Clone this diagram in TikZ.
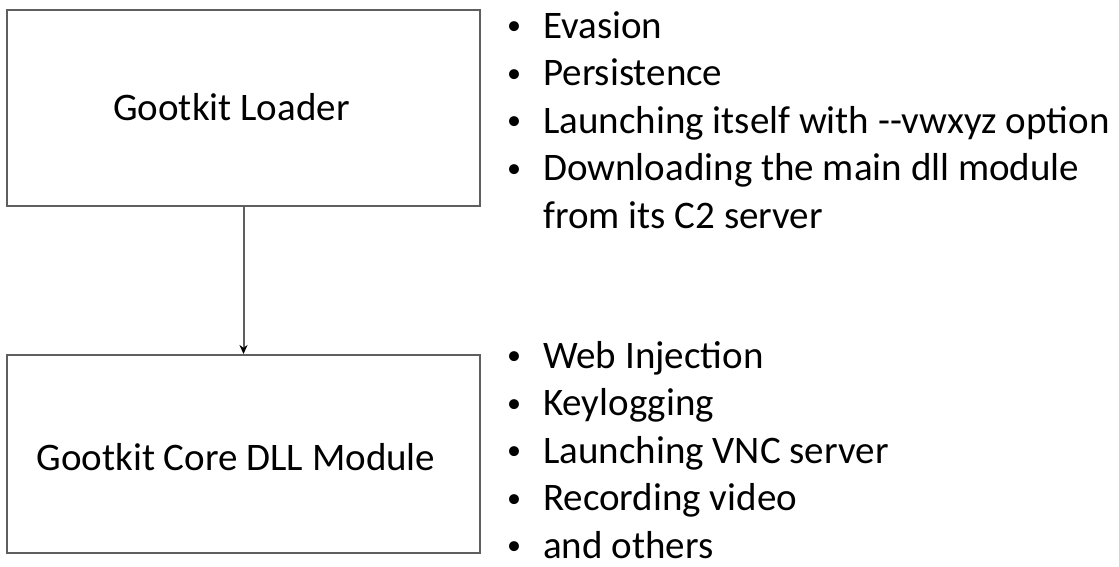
\documentclass[tikz,border=0pt]{standalone}
\usepackage{fontspec}
\usepackage{graphicx}
\setmainfont{Carlito}
\usetikzlibrary{positioning, arrows.meta}

\definecolor{edgegray}{RGB}{95,95,95}
\newcommand{\bitem}[1]{\makebox[36pt][l]{\raisebox{3.5pt}{\scalebox{0.72}{\textbullet}}}#1}

\begin{document}
\begin{tikzpicture}[
    x=1pt, y=-1pt,
    font=\fontsize{39}{47.5}\selectfont,
    stage/.style={draw=edgegray, line width=2pt, minimum width=473pt, minimum height=196pt, inner sep=0pt},
    items/.style={anchor=base west, align=left, inner sep=0pt},
    flow/.style={draw=edgegray, line width=2pt, -{Stealth[length=9pt, width=8pt, black]}}
]

% Page size
\useasboundingbox (0,0) rectangle (1119,567);

% Boxes
\node[stage] (loader) at (243.5,108) {};
\node[stage, minimum height=198pt] (core) at (243.5,454) {};
\node[anchor=base] (loadertxt) at (231.5,121) {Gootkit Loader};
\node[anchor=base] (coretxt) at (236,470) {Gootkit Core DLL Module};

% Connection
\draw[flow] (loader) -- (core);

% Feature lists (anchored at the last line)
\node[items] (loaderlist) at (507,228) {\bitem{Evasion}\\
    \bitem{Persistence}\\
    \bitem{Launching itself with -\kern0pt-vwxyz option}\\
    \bitem{Downloading the main dll module}\\
    \hspace*{36pt}from its C2 server};
\node[items] (corelist) at (507,558) {\bitem{Web Injection}\\
    \bitem{Keylogging}\\
    \bitem{Launching VNC server}\\
    \bitem{Recording video}\\
    \bitem{and others}};

\end{tikzpicture}
\end{document}
